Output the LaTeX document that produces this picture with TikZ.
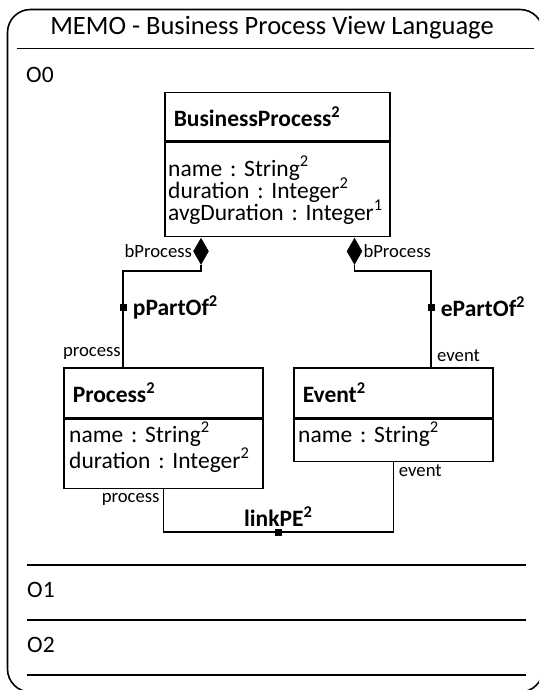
\documentclass[tikz,border=0pt]{standalone}
\usepackage{fontspec}
\setmainfont{Carlito}
\frenchspacing
\usetikzlibrary{shapes.geometric, calc}
\newcommand{\attrfont}{\fontsize{23.5}{22}\selectfont\lineskiplimit -30pt\relax}

\begin{document}
\begin{tikzpicture}[x=1pt, y=-1pt, line join=miter,
	frame/.style={line width=1.6pt},
	head/.style={draw, line width=1.5pt, anchor=north west, inner xsep=9pt, inner ysep=0pt,
		align=left, font=\fontsize{23.5}{22}\selectfont\bfseries},
	compart/.style={draw, line width=1.5pt, anchor=north west, inner sep=0pt},
	attrtxt/.style={anchor=base west, inner sep=0pt, align=left, text width=#1, font=\attrfont},
	conn/.style={line width=1.4pt},
	comp/.style={diamond, fill=black, draw, line width=0.6pt, inner sep=0pt,
		minimum width=15pt, minimum height=26pt, anchor=north},
	sqmark/.style={fill=black, inner sep=0pt, minimum size=7pt},
	role/.style={font=\fontsize{18.7}{20}\selectfont, inner sep=0pt},
	assoc/.style={font=\fontsize{23.5}{22}\selectfont\bfseries, inner sep=0pt},
	level/.style={font=\fontsize{23.5}{22}\selectfont, inner sep=0pt, anchor=west}]

\path[use as bounding box, clip] (0,0) rectangle (539,690);

%========================
% frame and title
%========================
\draw[frame, rounded corners=23pt] (7.5,9.5) rectangle (543,692);
\node[font=\fontsize{26.5}{28}\selectfont, inner sep=0pt] (title) at (272,28) {MEMO - Business Process View Language};
\draw[frame] (16.5,48.5) -- (534,48.5);

%========================
% level O0: classes
%========================
\node[level] (o0) at (26,75) {O0};

% BusinessProcess
\node[head, text width=207pt, minimum height=48pt] (bph) at (164,92) {BusinessProcess\textsuperscript{2}};
\node[compart, minimum width=225pt, minimum height=94pt] (bpa) at (bph.south west) {};
\node[attrtxt=215pt] (bpt) at ($(bpa.north west)+(4,34.5)$)
	{name : String\textsuperscript{2}\\duration : Integer\textsuperscript{2}\\avgDuration : Integer\textsuperscript{1}};

% Process
\node[head, text width=181pt, minimum height=50pt] (prh) at (63,367) {Process\textsuperscript{2}};
\node[compart, minimum width=199pt, minimum height=69pt] (pra) at (prh.south west) {};
\node[attrtxt=190pt] (prt) at ($(pra.north west)+(6,23.5)$)
	{name : String\textsuperscript{2}\\[4pt]duration : Integer\textsuperscript{2}};

% Event
\node[head, text width=181pt, minimum height=50pt] (evh) at (293,367) {Event\textsuperscript{2}};
\node[compart, minimum width=199pt, minimum height=42pt] (eva) at (evh.south west) {};
\node[attrtxt=190pt] (evt) at ($(eva.north west)+(5,23.5)$) {name : String\textsuperscript{2}};

%========================
% associations
%========================
% pPartOf
\node[comp] (bpl) at ($(bpa.south west)+(37,1)$) {};
\coordinate (prin) at ($(prh.north west)+(60,0)$);
\draw[conn] (bpl.south) -- ++(0,6.5) -| (prin);
\node[sqmark] (pmk) at ($(prin)+(0,-60)$) {};
\node[role, anchor=east] (bpll) at ($(bpl.west)+(-1,0)$) {bProcess};
\node[assoc, anchor=west] (ppo) at ($(pmk.east)+(6,0)$) {pPartOf\textsuperscript{2}};
\node[role, anchor=east] (prl) at ($(prin)+(-2,-14)$) {process};

% ePartOf
\node[comp] (bpr) at ($(bpa.south east)+(-36,1)$) {};
\coordinate (evin) at ($(evh.north west)+(138,0)$);
\draw[conn] (bpr.south) -- ++(0,6.5) -| (evin);
\node[sqmark] (emk) at ($(evin)+(0,-60)$) {};
\node[role, anchor=west] (bprl) at ($(bpr.east)+(1,0)$) {bProcess};
\node[assoc, anchor=west] (epo) at ($(emk.east)+(6,0)$) {ePartOf\textsuperscript{2}};
\node[role, anchor=west] (evl) at ($(evin)+(6,-11)$) {event};

% linkPE
\draw[conn] (pra.south) -- ++(0,43) -| (eva.south)
	node[sqmark, pos=0.25] (lmk) {};
\node[assoc, anchor=south] (lpe) at ($(lmk.north)+(0,-1)$) {linkPE\textsuperscript{2}};
\node[role, anchor=east] (lprl) at ($(pra.south)+(-3.5,10)$) {process};
\node[role, anchor=west] (levl) at ($(eva.south)+(5.5,9)$) {event};

%========================
% levels O1, O2
%========================
\draw[frame] (27,565) -- (526,565);
\node[level] (o1) at (27,590) {O1};
\draw[frame] (27,620) -- (526,620);
\node[level] (o2) at (27,645) {O2};
\draw[frame] (27,675) -- (526,675);

\end{tikzpicture}
\end{document}
